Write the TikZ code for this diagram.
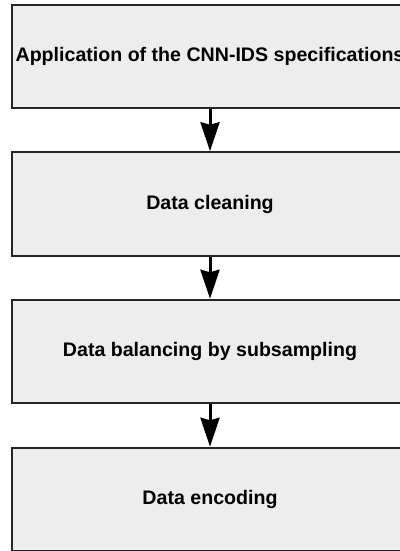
\documentclass[tikz,border=0pt]{standalone}
\usepackage{fontspec}
\setmainfont{Liberation Sans}
\usetikzlibrary{arrows.meta}
\begin{document}
\begin{tikzpicture}[x=1pt,y=-1pt,
  stage/.style={draw=black!85, line width=2pt, fill=black!7,
    minimum width=396pt, minimum height=103.5pt, inner sep=0pt,
    font=\fontsize{19.6}{22}\selectfont\bfseries},
  flow/.style={draw=black, line width=3pt,
    -{Stealth[length=29pt,width=19pt,inset=2.5pt,fill=black]}}]
\useasboundingbox (0,0) rectangle (399,551);
\fill[white] (0,0) rectangle (399,551);
\node[stage] (s1) at (210,56.5)  {Application of the CNN-IDS specifications};
\node[stage] (s2) at (210,204)   {Data cleaning};
\node[stage] (s3) at (210,351.5) {Data balancing by subsampling};
\node[stage] (s4) at (210,499.5) {Data encoding};
\draw[flow] (s1.south) -- (s2.north);
\draw[flow] (s2.south) -- (s3.north);
\draw[flow] (s3.south) -- (s4.north);
\end{tikzpicture}
\end{document}
